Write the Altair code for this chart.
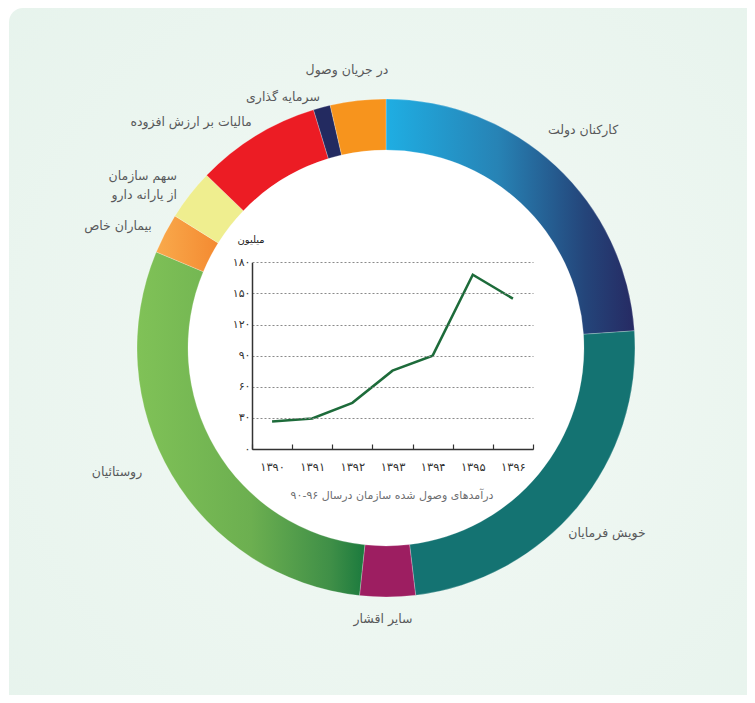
import math
import altair as alt
import pandas as pd

# ---------------- data ----------------
CATEGORIES = [
    "کارکنان دولت",
    "خویش فرمایان",
    "سایر اقشار",
    "روستائیان",
    "بیماران خاص",
    "سهم سازمان از یارانه دارو",
    "مالیات بر ارزش افزوده",
    "سرمایه گذاری",
    "در جریان وصول",
]
SHARES = [23.9, 24.2, 3.6, 29.6, 2.6, 3.3, 8.1, 1.1, 3.6]

YEARS = ["۱۳۹۰", "۱۳۹۱", "۱۳۹۲", "۱۳۹۳", "۱۳۹۴", "۱۳۹۵", "۱۳۹۶"]
REVENUE = [26.5, 29.5, 44.5, 75.5, 90, 168, 145]

Y_UNIT = "میلیون"
CAPTION = "درآمدهای وصول شده سازمان درسال ۹۶-۹۰"

# ---------------- styles ----------------
def lin(stops):
    return alt.LinearGradient(
        gradient="linear",
        stops=[alt.GradientStop(offset=o, color=c) for o, c in stops],
        x1=0, x2=1, y1=0, y2=0,
    )

FILLS = [
    lin([(0, "#1FAEE3"), (0.45, "#2783B5"), (0.8, "#24457A"), (1, "#262A63")]),
    "#147372",
    "#9D1E61",
    lin([(0, "#80C257"), (0.5, "#6CAF50"), (0.85, "#3F8F47"), (1, "#1B7A3E")]),
    lin([(0, "#F9AA4C"), (1, "#F48A31")]),
    "#EFEE8F",
    "#EC1C24",
    "#232A60",
    "#F7941D",
]

CX, CY = 378, 340
R_OUT, R_IN = 249, 198
FONT = "DejaVu Sans"
LABEL_COLOR = "#58595B"

# label anchor positions (layout only)
LABEL_POS = [
    (575, 122, "center"),
    (599, 525, "center"),
    (375, 611, "center"),
    (109, 464, "center"),
    (110, 218, "center"),
    (169, 168, "right"),
    (183, 114, "center"),
    (275, 89, "center"),
    (339, 62, "center"),
]
LABEL_LINES = {5: ["سهم سازمان", "از یارانه دارو"]}

W, H = 739, 687

seg_df = pd.DataFrame({"idx": list(range(len(CATEGORIES))), "cat": CATEGORIES, "share": SHARES})
base = alt.Chart(seg_df).transform_window(
    cum="sum(share)", sort=[alt.SortField("idx")], frame=[None, 0]
).transform_calculate(start="datum.cum - datum.share")

theta_scale = alt.Scale(domain=[0, 100], range=[0, 2 * math.pi])

layers = []

# background panel
bg = alt.RadialGradient(
    gradient="radial",
    stops=[alt.GradientStop(offset=0, color="#F3F9F5"), alt.GradientStop(offset=1, color="#E6F3EC")],
    x1=0.52, y1=0.5, r1=0, x2=0.52, y2=0.5, r2=0.75,
)
panel = alt.Chart(pd.DataFrame({"d": [0]})).mark_rect(fill=bg, cornerRadius=14).encode(
    x=alt.value(1), x2=alt.value(W + 20), y=alt.value(0), y2=alt.value(H + 20)
)
layers.append(panel)

# white inner disc
disc = alt.Chart(pd.DataFrame({"d": [0]})).mark_arc(
    outerRadius=R_IN + 1, innerRadius=0, fill="white"
).encode(
    theta=alt.value(0), theta2=alt.value(2 * math.pi),
    x=alt.value(CX), y=alt.value(CY),
)
layers.append(disc)

for i, fill in enumerate(FILLS):
    seg = base.transform_filter(f"datum.idx == {i}").mark_arc(
        innerRadius=R_IN, outerRadius=R_OUT, fill=fill,
        stroke="white", strokeWidth=0.4, strokeOpacity=0.6,
    ).encode(
        theta=alt.Theta("start:Q", scale=theta_scale),
        theta2="cum:Q",
        x=alt.value(CX), y=alt.value(CY),
        tooltip=["cat:N", "share:Q"],
    )
    layers.append(seg)

# labels
for i, (px, py, al) in enumerate(LABEL_POS):
    txt = LABEL_LINES.get(i, CATEGORIES[i])
    t = alt.Chart(pd.DataFrame({"t": [txt]})).mark_text(
        font=FONT, fontSize=12.5, color=LABEL_COLOR, align=al,
        baseline="middle", lineHeight=19,
    ).encode(x=alt.value(px), y=alt.value(py), text="t")
    layers.append(t)

# inner line chart
digits = "0123456789"
pers = "۰۱۲۳۴۵۶۷۸۹"
expr = "datum.label"
for d, p in zip(digits, pers):
    expr = f"replace({expr}, regexp('{d}', 'g'), '{p}')"

X0, X1 = 244, 525
Y0, Y1 = 441, 254.3

line_df = pd.DataFrame({"year": YEARS, "value": REVENUE})
line = alt.Chart(line_df).mark_line(color="#1D6B3A", strokeWidth=2.5).encode(
    x=alt.X(
        "year:O",
        sort=YEARS,
        bandPosition=0.5,
        scale=alt.Scale(type="band", domain=YEARS, range=[X0, X1], paddingInner=0, paddingOuter=0),
        axis=alt.Axis(
            orient="top", offset=-Y0, title=None, tickBand="extent",
            tickSize=5, tickColor="#333", tickWidth=1.2,
            domainColor="#333", domainWidth=1.5,
            labelFont=FONT, labelFontSize=11.5, labelColor="#333",
            labelPadding=-23, labelBaseline="middle", labelAngle=0,
            grid=False, zindex=2,
        ),
    ),
    y=alt.Y(
        "value:Q",
        scale=alt.Scale(domain=[0, 180], range=[Y0, Y1], nice=False, zero=True),
        axis=alt.Axis(
            orient="left", offset=-X0, title=None,
            values=[0, 30, 60, 90, 120, 150, 180],
            tickSize=0, labelPadding=2,
            domainColor="#333", domainWidth=1.5,
            labelFont=FONT, labelFontSize=11, labelColor="#333",
            labelExpr=expr,
            grid=True, gridColor="#8A8A8A", gridDash=[2, 2], gridWidth=1,
            zindex=2,
        ),
    ),
)
layers.append(line)

unit = alt.Chart(pd.DataFrame({"t": [Y_UNIT]})).mark_text(
    font=FONT, fontSize=10, color="#222", align="center", baseline="middle"
).encode(x=alt.value(243), y=alt.value(232), text="t")
cap = alt.Chart(pd.DataFrame({"t": [CAPTION]})).mark_text(
    font=FONT, fontSize=11, color="#6D6E71", align="center", baseline="middle"
).encode(x=alt.value(384), y=alt.value(488), text="t")
layers += [unit, cap]

chart = alt.layer(*layers).properties(
    width=W, height=H, padding=0, autosize=alt.AutoSizeParams(type="none"),
    background="white",
).configure_view(
    stroke=None,
)

chart.save("out.html", embed_options={"renderer": "svg", "actions": False})
